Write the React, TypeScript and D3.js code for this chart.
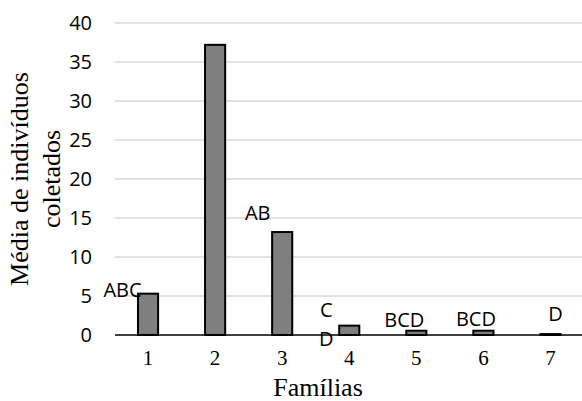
import React from "react";
import * as d3 from "d3";

// Mean number of individuals collected per family
const families = ["1", "2", "3", "4", "5", "6", "7"];
const means = [5.3, 37.2, 13.2, 1.2, 0.55, 0.55, 0.12];
const yTicks = [0, 5, 10, 15, 20, 25, 30, 35, 40];

// Significance letters (Tukey groups) attached to each family
const letterFamilies = ["1", "3", "4", "4", "5", "6", "7"];
const letterTexts = ["ABC", "AB", "C", "D", "BCD", "BCD", "D"];

// Placement of each letter relative to its bar (center x, top y)
const letterDx = [-25.5, -24.5, -23, -23, -12, -7.5, 5];
const letterDy = [3, -12, -8.5, 20.5, -4, -5, -13];

const W = 582;
const H = 401;

export default function App() {
  const x = d3.scaleBand<string>().domain(families).range([114.5, 584]).padding(0);
  const y = d3.scaleLinear().domain([0, 40]).range([335, 23]);
  const barW = x.bandwidth() * 0.3;
  const sans = "'Open Sans', 'Noto Sans', sans-serif";
  const serif = "'Liberation Serif', 'Times New Roman', serif";
  const center = (f: string) => (x(f) ?? 0) + x.bandwidth() / 2;
  const yMid = (y(0) + y(40)) / 2;

  return (
    <svg
      width={W}
      height={H}
      viewBox={`0 0 ${W} ${H}`}
      style={{ position: "absolute", left: 0, top: 0, background: "#fff" }}
    >
      {/* horizontal gridlines */}
      {yTicks.filter((t) => t > 0).map((t) => (
        <line key={`g${t}`} x1={115} x2={W} y1={y(t)} y2={y(t)} stroke="#d9d9d9" strokeWidth={1.6} />
      ))}
      {/* y tick labels */}
      {yTicks.map((t) => (
        <text
          key={`yt${t}`}
          x={92}
          y={y(t)}
          dy="0.35em"
          textAnchor="end"
          fontFamily={sans}
          fontSize={20}
          fill="#000"
        >
          {t}
        </text>
      ))}
      {/* bars */}
      {families.map((f, i) => (
        <rect
          key={`b${f}`}
          x={center(f) - barW / 2}
          y={y(means[i])}
          width={barW}
          height={y(0) - y(means[i])}
          fill="#7f7f7f"
          stroke="#000"
          strokeWidth={2}
        />
      ))}
      {/* baseline */}
      <line x1={115} x2={W} y1={y(0)} y2={y(0)} stroke="#000" strokeWidth={1.6} />
      {/* x tick labels */}
      {families.map((f) => (
        <text
          key={`xt${f}`}
          x={center(f)}
          y={365}
          textAnchor="middle"
          fontFamily={serif}
          fontSize={21}
          fill="#000"
        >
          {f}
        </text>
      ))}
      {/* significance letters */}
      {letterTexts.map((t, i) => {
        const f = letterFamilies[i];
        const v = means[families.indexOf(f)];
        return (
          <text
            key={`l${i}`}
            x={center(f) + letterDx[i]}
            y={y(v) + letterDy[i]}
            textAnchor="middle"
            fontFamily={sans}
            fontSize={20}
            fill="#000"
          >
            {t}
          </text>
        );
      })}
      {/* axis titles */}
      <text x={318} y={396} textAnchor="middle" fontFamily={serif} fontSize={26} fill="#000">
        Famílias
      </text>
      <g transform={`translate(28, ${yMid}) rotate(-90)`}>
        <text x={0} y={0} textAnchor="middle" fontFamily={serif} fontSize={26} fill="#000">
          Média de indivíduos
        </text>
        <text x={0} y={32} textAnchor="middle" fontFamily={serif} fontSize={26} fill="#000">
          coletados
        </text>
      </g>
    </svg>
  );
}
